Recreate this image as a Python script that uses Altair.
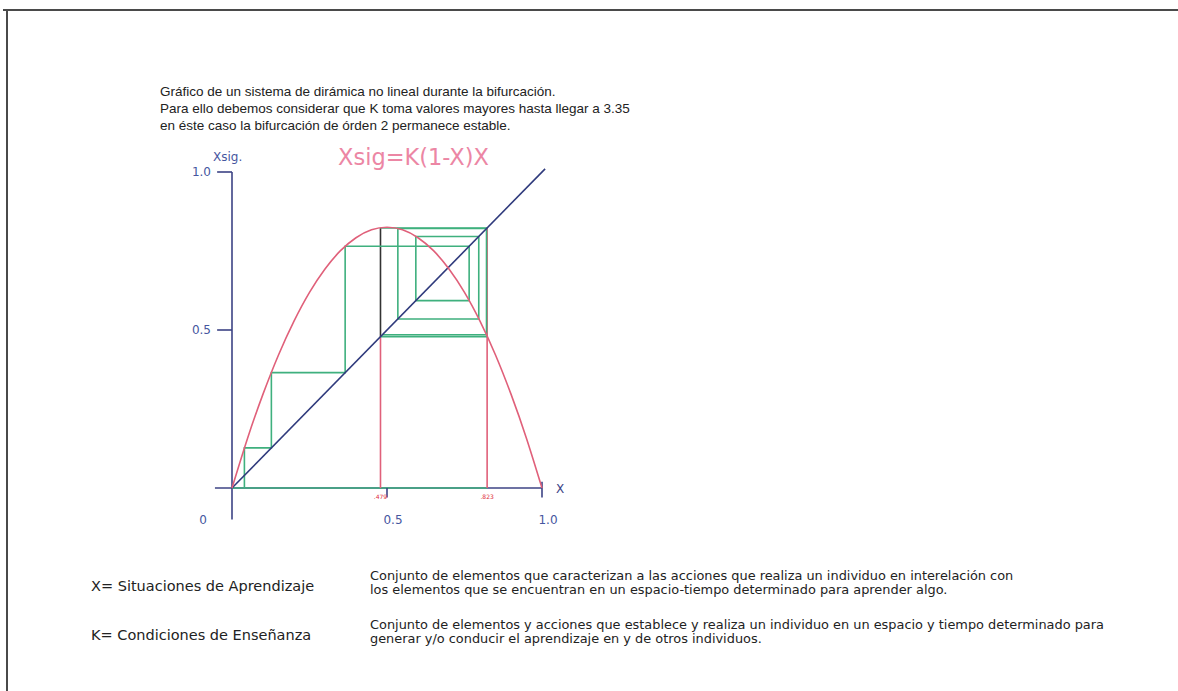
import altair as alt
import pandas as pd

# ---- values --------------------------------------------------------------
# parabola Xsig = K(1-X)X, K = 3.3
curve_x = [0.0, 0.05, 0.1, 0.15, 0.2, 0.25, 0.3, 0.35, 0.4, 0.45, 0.5,
           0.55, 0.6, 0.65, 0.7, 0.75, 0.8, 0.85, 0.9, 0.95, 1.0]
curve_y = [0.0, 0.157, 0.297, 0.421, 0.528, 0.619, 0.693, 0.751, 0.792, 0.817, 0.825,
           0.817, 0.792, 0.751, 0.693, 0.619, 0.528, 0.421, 0.297, 0.157, 0.0]

# cobweb path of the iterations
web_x = [0.04, 0.04, 0.127, 0.127, 0.365, 0.365, 0.765, 0.765, 0.593, 0.593,
         0.796, 0.796, 0.535, 0.535, 0.821, 0.821, 0.485]
web_y = [0.0, 0.127, 0.127, 0.365, 0.365, 0.765, 0.765, 0.593, 0.593, 0.796,
         0.796, 0.535, 0.535, 0.821, 0.821, 0.485, 0.485]

# period-2 cycle
cycle_lo = 0.479
cycle_hi = 0.823
cycle_labels = [".479", ".823"]

diag_end = 1.01

x_tick_vals = [0.5, 1.0]
x_tick_text = ["0.5", "1.0"]
y_tick_vals = [0.5, 1.0]
y_tick_text = ["0.5", "1.0"]
origin_text = "0"

title_lines = [
    "Gráfico de un sistema de dirámica no lineal durante la bifurcación.",
    "Para ello debemos considerar que K toma valores mayores hasta llegar a 3.35",
    "en éste caso la bifurcación de órden 2 permanece estable.",
]
terms = ["X= Situaciones de Aprendizaje", "K= Condiciones de Enseñanza"]
term_desc = [
    ["Conjunto de elementos que caracterizan a las acciones que realiza un individuo en interelación con",
     "los elementos que se encuentran en un espacio-tiempo determinado para aprender algo."],
    ["Conjunto de elementos y acciones que establece y realiza un individuo en un espacio y tiempo determinado para",
     "generar y/o conducir el aprendizaje en y de otros individuos."],
]

# ---- colours -------------------------------------------------------------
AXIS = "#3c4385"
DIAG = "#2f3a7c"
RED = "#e0607a"
GREEN = "#3fb07e"
PINK = "#ec86a4"
TICK_TXT = "#4656a0"
TXT = "#222222"

W, H = 1178, 691
# the whole canvas is the view; scales put X=0 at 232px and X=1 at 542px,
# Xsig=0 at 488px and Xsig=1 at 172px
x_scale = alt.Scale(domain=[-232 / 310, (W - 232) / 310], nice=False, zero=False)
y_scale = alt.Scale(domain=[(488 - H) / 316, 488 / 316], nice=False, zero=False)


def X(field):
    return alt.X(field, type="quantitative", scale=x_scale, axis=None)


def Y(field):
    return alt.Y(field, type="quantitative", scale=y_scale, axis=None)


# ---- segments (axes, cycle lines) ------------------------------------------
segs = pd.DataFrame([
    # y axis and ticks
    dict(x=0, y=-0.1, x2=0, y2=1.0, c=AXIS),
    dict(x=-0.048, y=1.0, x2=0, y2=1.0, c=AXIS),
    dict(x=-0.048, y=0.5, x2=0, y2=0.5, c=AXIS),
    # x axis and ticks
    dict(x=-0.055, y=0, x2=1.0, y2=0, c=AXIS),
    dict(x=0, y=0, x2=cycle_hi, y2=0, c=GREEN),
    dict(x=0.5, y=0.0, x2=0.5, y2=-0.03, c=AXIS),
    dict(x=1.0, y=0.02, x2=1.0, y2=-0.03, c=AXIS),
    # period-2 cycle
    dict(x=cycle_lo, y=0, x2=cycle_lo, y2=cycle_lo, c=RED),
    dict(x=cycle_lo, y=cycle_lo, x2=cycle_lo, y2=cycle_hi, c="#333333"),
    dict(x=cycle_hi, y=0, x2=cycle_hi, y2=cycle_hi, c=RED),
    dict(x=cycle_lo, y=cycle_hi, x2=cycle_hi, y2=cycle_hi, c=GREEN),
    dict(x=cycle_lo, y=cycle_lo, x2=cycle_hi, y2=cycle_lo, c=GREEN),
])

seg_layer = alt.Chart(segs).mark_rule(strokeWidth=1.6).encode(
    x=X("x"), y=Y("y"), x2="x2", y2="y2",
    color=alt.Color("c:N", scale=None),
)

web_df = pd.DataFrame({"x": web_x, "y": web_y, "o": list(range(len(web_x)))})
web_layer = alt.Chart(web_df).mark_line(color=GREEN, strokeWidth=1.6).encode(
    x=X("x"), y=Y("y"), order="o:Q"
)

diag_df = pd.DataFrame({"x": [0, diag_end], "y": [0, diag_end]})
diag_layer = alt.Chart(diag_df).mark_line(color=DIAG, strokeWidth=1.6).encode(
    x=X("x"), y=Y("y")
)

curve_df = pd.DataFrame({"x": curve_x, "y": curve_y})
curve_layer = alt.Chart(curve_df).mark_line(
    color=RED, strokeWidth=1.6, interpolate="natural"
).encode(x=X("x"), y=Y("y"))

# ---- tick labels ---------------------------------------------------------
tick_font = dict(font="DejaVu Sans", fontSize=12, color=TICK_TXT)

ytl = pd.DataFrame({"v": y_tick_vals, "t": y_tick_text, "x": [0.0] * 2})
ytl_layer = alt.Chart(ytl).mark_text(
    align="right", baseline="middle", dx=-21, **tick_font
).encode(x=X("x"), y=Y("v"), text="t:N")

xtl = pd.DataFrame({"v": x_tick_vals, "t": x_tick_text, "y": [0.0] * 2})
xtl_layer = alt.Chart(xtl).mark_text(
    align="center", baseline="middle", dx=6, dy=32, **tick_font
).encode(x=X("v"), y=Y("y"), text="t:N")

org = pd.DataFrame({"v": [0.0], "t": [origin_text], "y": [0.0]})
org_layer = alt.Chart(org).mark_text(
    align="center", baseline="middle", dx=-29, dy=32, **tick_font
).encode(x=X("v"), y=Y("y"), text="t:N")

cyc = pd.DataFrame({"v": [cycle_lo, cycle_hi], "t": cycle_labels, "y": [0.0, 0.0]})
cyc_layer = alt.Chart(cyc).mark_text(
    align="center", baseline="middle", dy=9, font="DejaVu Sans", fontSize=6,
    color="#e03040",
).encode(x=X("v"), y=Y("y"), text="t:N")

# ---- annotations ---------------------------------------------------------
def label(text, x, y, size, color, align="left", font="Liberation Sans"):
    return alt.Chart(pd.DataFrame({"t": [text]})).mark_text(
        align=align, baseline="middle", font=font, fontSize=size, color=color,
    ).encode(x=alt.value(x), y=alt.value(y), text="t:N")


notes = []
for i, line in enumerate(title_lines):
    notes.append(label(line, 160, 92 + 17 * i, 13.5, TXT))
notes.append(label("Xsig.", 213, 157, 12, TICK_TXT, font="DejaVu Sans"))
notes.append(label("Xsig=K(1-X)X", 338, 158, 22.5, PINK, font="DejaVu Sans"))
notes.append(label("X", 556, 489, 12, AXIS, font="DejaVu Sans"))
for i, (term, desc) in enumerate(zip(terms, term_desc)):
    base = 583 + 49 * i
    notes.append(label(term, 91, base + 4, 14.5, TXT, font="DejaVu Sans"))
    for j, d in enumerate(desc):
        notes.append(label(d, 370, base - 7 + 14 * j, 12.9, TXT, font="DejaVu Sans"))

# frame
frame = pd.DataFrame([
    dict(x=3, x2=W, y=10, y2=10),
    dict(x=7, x2=7, y=10, y2=H),
])
frame_layer = alt.Chart(frame).mark_rule(color="#4a4a4a", strokeWidth=2).encode(
    x=alt.X("x:Q", scale=alt.Scale(domain=[0, W], nice=False), axis=None),
    x2="x2",
    y=alt.Y("y:Q", scale=alt.Scale(domain=[H, 0], nice=False), axis=None),
    y2="y2",
)

plot = alt.layer(
    seg_layer, web_layer, diag_layer, curve_layer,
    ytl_layer, xtl_layer, org_layer, cyc_layer,
).properties(width=W, height=H)

chart = alt.layer(plot, frame_layer, *notes).resolve_scale(
    x="independent", y="independent"
).properties(
    width=W, height=H, autosize=alt.AutoSizeParams(type="none"), padding=0,
    background="white",
).configure_view(stroke=None)

chart.save("out.html", embed_options={"renderer": "svg", "actions": False})
